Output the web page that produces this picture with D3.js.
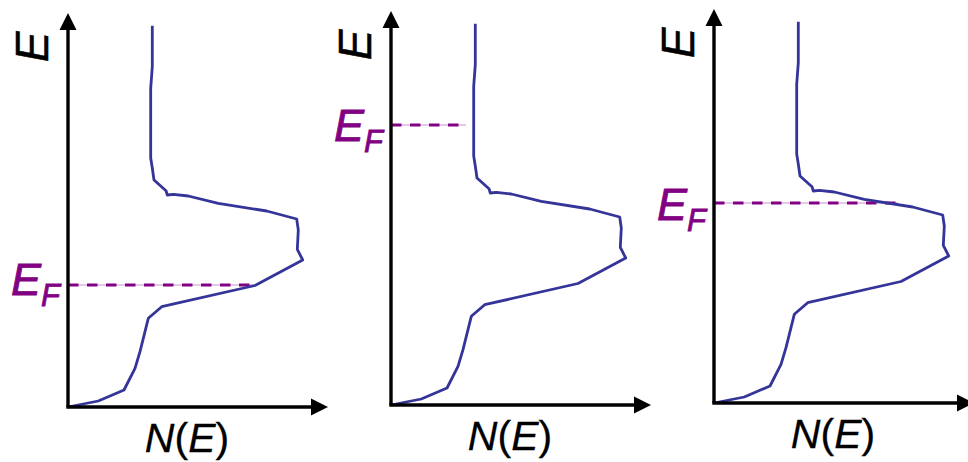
<!DOCTYPE html>
<html>
<head>
<meta charset="utf-8">
<script src="https://cdn.jsdelivr.net/npm/d3@7"></script>
<style>
  html, body { margin: 0; padding: 0; background: #ffffff; }
  svg { display: block; }
  text { font-family: "Liberation Sans", Arial, sans-serif; }
</style>
</head>
<body>
<svg id="chart" width="968" height="462"></svg>
<script>
// Density of states N(E) versus energy E (same curve in every panel)
const dosN = [84.3, 84.3, 82.7, 82.7, 84.3, 86, 98, 99.3, 105.3, 120.3, 150.3, 198.7, 228.7, 230.3, 229.3, 234.7, 187, 93.7, 80.3, 72, 67, 56, 30.3, 0];
const dosE = [381.3, 340.3, 318.7, 249, 239, 227, 216.3, 212, 212.7, 211, 203.7, 196, 188, 177, 157.7, 147, 121.5, 100.3, 88.7, 55.3, 38.7, 17, 6, 0];

// Fermi level of each panel and where its dashed marker stops along N
const fermiLevels = [122, 280, 200];
const fermiEnds = [187, 75, 184];

// Axis labels
const yLabel = "E";
const xLabelParts = [["N", true], ["(", false], ["E", true], [")", false]];
const fermiLabel = ["E", "F"];

// Axis extents (data units)
const nMax = 260, eMax = 394;

// Panel placement
const panels = [
  { ox: 68,  oy: 407, efDy: 10 },
  { ox: 391, oy: 405, efDy: 16 },
  { ox: 714, oy: 403, efDy: 17 }
];

const svg = d3.select("#chart");
const curveColor = "#343499";
const fermiColor = "#820082";

const dos = dosN.map((n, i) => ({ n, e: dosE[i] }));

panels.forEach((p, i) => {
  const x = d3.scaleLinear().domain([0, nMax]).range([p.ox, p.ox + nMax]);
  const y = d3.scaleLinear().domain([0, eMax]).range([p.oy, p.oy - eMax]);
  const g = svg.append("g");

  // Fermi level marker: pale guide with dashes on top
  const ef = fermiLevels[i];
  g.append("line")
    .attr("x1", x(0)).attr("x2", x(fermiEnds[i]))
    .attr("y1", y(ef)).attr("y2", y(ef))
    .attr("stroke", "#dcb6dc").attr("stroke-width", 1.6);
  g.append("line")
    .attr("x1", x(0)).attr("x2", x(fermiEnds[i]))
    .attr("y1", y(ef)).attr("y2", y(ef))
    .attr("stroke", fermiColor).attr("stroke-width", 3)
    .attr("stroke-dasharray", "10.5 8.5");

  // DOS curve
  g.append("path")
    .datum(dos)
    .attr("fill", "none")
    .attr("stroke", curveColor)
    .attr("stroke-width", 2.8)
    .attr("stroke-linejoin", "round")
    .attr("d", d3.line().x(d => x(d.n)).y(d => y(d.e)));

  // Axes with arrowheads
  const arrowLen = 17, arrowHalf = 8.5;
  g.append("line")
    .attr("x1", x(0)).attr("y1", y(0))
    .attr("x2", x(0)).attr("y2", y(eMax) + arrowLen - 1)
    .attr("stroke", "#000").attr("stroke-width", 3.4);
  g.append("path")
    .attr("d", `M${x(0)},${y(eMax)} L${x(0) - arrowHalf},${y(eMax) + arrowLen} L${x(0) + arrowHalf},${y(eMax) + arrowLen} Z`)
    .attr("fill", "#000");
  g.append("line")
    .attr("x1", x(0) - 1.7).attr("y1", y(0))
    .attr("x2", x(nMax) - arrowLen + 1).attr("y2", y(0))
    .attr("stroke", "#000").attr("stroke-width", 3.4);
  g.append("path")
    .attr("d", `M${x(nMax)},${y(0)} L${x(nMax) - arrowLen},${y(0) - arrowHalf} L${x(nMax) - arrowLen},${y(0) + arrowHalf} Z`)
    .attr("fill", "#000");

  // Energy axis label (rotated)
  g.append("text")
    .attr("transform", `translate(${x(0) - 36},${y(eMax) + 34}) rotate(-90)`)
    .attr("text-anchor", "middle")
    .attr("dominant-baseline", "central")
    .attr("font-size", 46)
    .attr("font-style", "italic")
    .attr("fill", "#000")
    .attr("stroke", "#000").attr("stroke-width", 0.5)
    .text(yLabel);

  // N(E) label
  const xl = g.append("text")
    .attr("x", x(0) + 119)
    .attr("y", y(0) + 45)
    .attr("text-anchor", "middle")
    .attr("font-size", 41)
    .attr("fill", "#000")
    .attr("stroke", "#000").attr("stroke-width", 0.3);
  xLabelParts.forEach(([t, it]) => {
    xl.append("tspan").attr("font-style", it ? "italic" : "normal").text(t);
  });

  // E_F label
  const fl = g.append("text")
    .attr("x", x(0) - 57)
    .attr("y", y(ef) + p.efDy)
    .attr("font-size", 45)
    .attr("font-style", "italic")
    .attr("fill", fermiColor)
    .attr("stroke", fermiColor).attr("stroke-width", 0.8);
  fl.append("tspan").text(fermiLabel[0]);
  fl.append("tspan").attr("font-size", 31).attr("dy", 11).text(fermiLabel[1]);
});
</script>
</body>
</html>
